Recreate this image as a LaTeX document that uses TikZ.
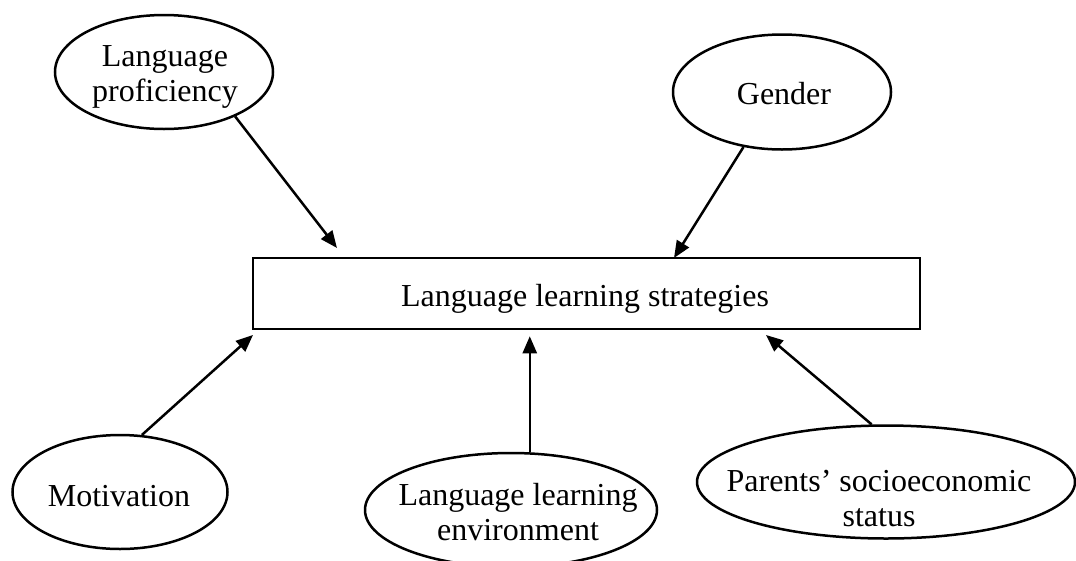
\documentclass[tikz,border=0pt]{standalone}
\usepackage{fontspec}
\setmainfont{Liberation Serif}
\usetikzlibrary{shapes.geometric,arrows.meta,calc}

\tikzset{
  factor/.style={ellipse, draw, line width=2.5pt, inner sep=0pt},
  core/.style={rectangle, draw, line width=2.5pt, inner sep=0pt},
  caption/.style={inner sep=0pt, align=center, font=\fontsize{32}{35}\selectfont},
  link/.style={line width=2.5pt, -{Triangle[length=17pt,width=14pt]}}
}

\begin{document}
\begin{tikzpicture}[x=1pt, y=-1pt]
  \useasboundingbox (0,0) rectangle (1076,560);

  % central construct
  \node[core, minimum width=667pt, minimum height=71pt] (box) at (586.5,293.5) {};
  \node[caption] (box-t) at (585,298.5) {Language learning strategies};

  % influencing factors
  \node[factor, minimum width=218pt, minimum height=114pt] (prof) at (164,72) {};
  \node[caption] (prof-t) at (165,77) {Language\\proficiency};

  \node[factor, minimum width=218pt, minimum height=115pt] (gender) at (782,92) {};
  \node[caption] (gender-t) at (784,94) {Gender};

  \node[factor, minimum width=215pt, minimum height=114pt] (motiv) at (120,492) {};
  \node[caption] (motiv-t) at (119,496) {Motivation};

  \node[factor, minimum width=292pt, minimum height=114pt] (env) at (511,510) {};
  \node[caption] (env-t) at (518,512) {Language learning\\environment};

  \node[factor, minimum width=378pt, minimum height=113pt] (parents) at (886,482) {};
  \node[caption] (parents-t) at (879,499) {Parents’ socioeconomic\\status};

  % arrow tips stop just short of the box
  \coordinate (t1) at (337,248);
  \coordinate (t2) at (674,258);
  \coordinate (t3) at (253,335);
  \coordinate (t5) at (766,335);

  \draw[link] (prof.-32) -- (t1);
  \draw[link] (gender.-125) -- (t2);
  \draw[link] (motiv.69) -- (t3);
  \draw[link] (env.72) -- ($(env.72 |- box.south)+(0,6)$);
  \draw[link] (parents.104) -- (t5);
\end{tikzpicture}
\end{document}
